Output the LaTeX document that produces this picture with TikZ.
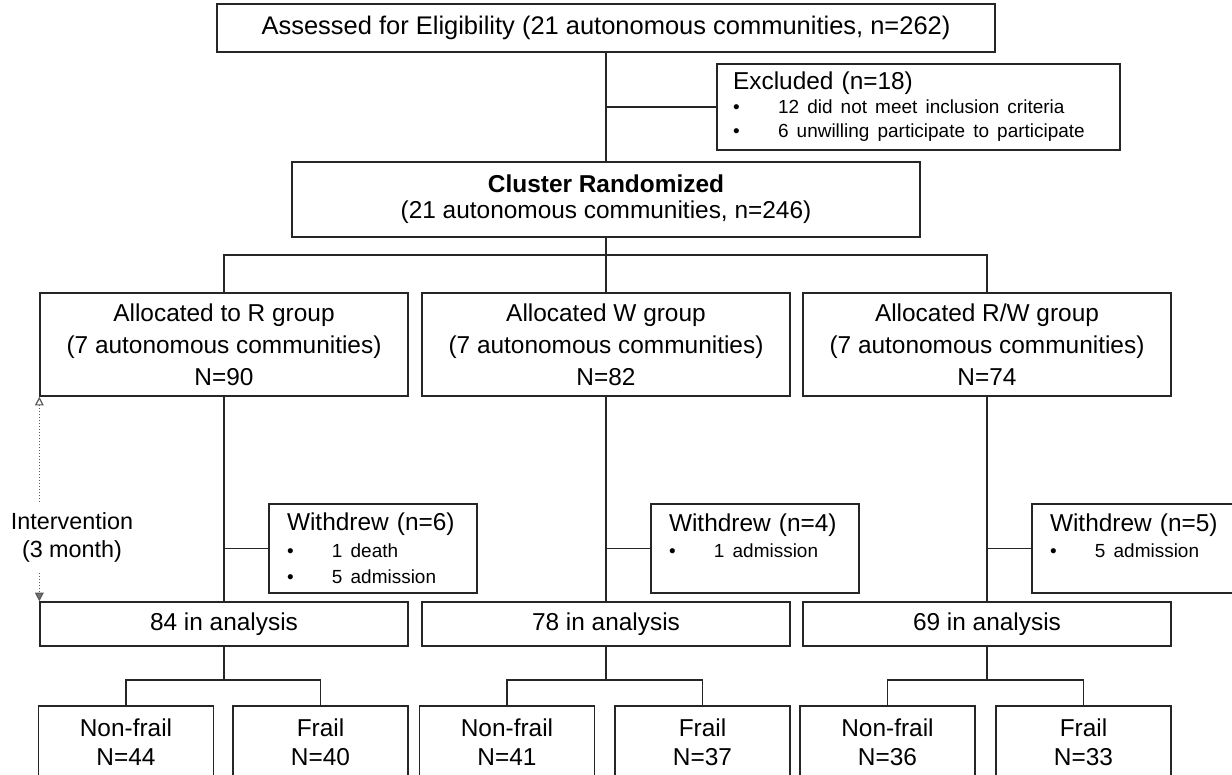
\documentclass[tikz,border=0pt]{standalone}
\usepackage{fontspec}
\setmainfont{Liberation Sans}
\usetikzlibrary{arrows.meta}
\newcommand{\bulline}[1]{{\fontsize{10.8}{13.6}\selectfont\makebox[0.9cm][l]{\textbullet}#1}}
\tikzset{
    flowbox/.style={draw=black!85, line width=0.8pt, align=center, inner sep=0pt, font=\fontsize{13.9}{18.1}\selectfont},
    sidebox/.style={draw=black!85, line width=0.8pt, align=left, inner ysep=0pt, inner xsep=0.36cm, text width=3.44cm, minimum height=1.78cm, font=\fontsize{13.9}{15}\selectfont},
    link/.style={draw=black!85, line width=0.8pt},
    timeline/.style={black!65, line width=0.7pt, densely dotted}
}
\begin{document}
\begin{tikzpicture}[x=0.02cm, y=-0.02cm]
        \useasboundingbox (0,0) rectangle (1232,775);
        \clip (0,0) rectangle (1232,775);
        \node [flowbox, minimum width=15.56cm, minimum height=0.96cm, font=\fontsize{14.5}{18}\selectfont] (assess) at (606,28) {Assessed for Eligibility (21 autonomous communities, n=262)};
        \node [sidebox, inner xsep=0.32cm, text width=7.42cm, minimum height=1.72cm, font=\fontsize{13.9}{13.6}\selectfont] (excl) at (918.5,107) {Excluded (n=18)\\ \bulline{12 did not meet inclusion criteria}\\ \bulline{6 unwilling participate to participate}};
        \node [flowbox, minimum width=12.56cm, minimum height=1.5cm, font=\fontsize{13.9}{14.8}\selectfont] (clus) at (606,199.5) {\textbf{Cluster Randomized}\\(21 autonomous communities, n=246)};
        \node [flowbox, minimum width=7.36cm, minimum height=2.06cm] (grpR) at (224,344.5) {Allocated to R group\\(7 autonomous communities)\\N=90};
        \node [flowbox, minimum width=7.36cm, minimum height=2.06cm] (grpW) at (606,344.5) {Allocated W group\\(7 autonomous communities)\\N=82};
        \node [flowbox, minimum width=7.36cm, minimum height=2.06cm] (grpRW) at (987,344.5) {Allocated R/W group\\(7 autonomous communities)\\N=74};
        \node [sidebox] (wdR) at (373,548.5) {Withdrew (n=6)\\ \bulline{1 death}\\ \bulline{5 admission}};
        \node [sidebox] (wdW) at (755,548.5) {Withdrew (n=4)\\ \bulline{1 admission}\\ \mbox{}};
        \node [sidebox] (wdRW) at (1136,548.5) {Withdrew (n=5)\\ \bulline{5 admission}\\ \mbox{}};
        \node [flowbox, minimum width=7.36cm, minimum height=0.88cm] (anR) at (224,624) {84 in analysis};
        \node [flowbox, minimum width=7.36cm, minimum height=0.88cm] (anW) at (606,624) {78 in analysis};
        \node [flowbox, minimum width=7.36cm, minimum height=0.88cm] (anRW) at (987,624) {69 in analysis};
        \node [flowbox, minimum width=3.5cm, minimum height=1.46cm, font=\fontsize{13.9}{16.4}\selectfont] (nfR) at (126,742.5) {Non-frail\\N=44};
        \node [flowbox, minimum width=3.5cm, minimum height=1.46cm, font=\fontsize{13.9}{16.4}\selectfont] (fR) at (320.5,742.5) {Frail\\N=40};
        \node [flowbox, minimum width=3.5cm, minimum height=1.46cm, font=\fontsize{13.9}{16.4}\selectfont] (nfW) at (507,742.5) {Non-frail\\N=41};
        \node [flowbox, minimum width=3.5cm, minimum height=1.46cm, font=\fontsize{13.9}{16.4}\selectfont] (fW) at (702.5,742.5) {Frail\\N=37};
        \node [flowbox, minimum width=3.5cm, minimum height=1.46cm, font=\fontsize{13.9}{16.4}\selectfont] (nfRW) at (887.5,742.5) {Non-frail\\N=36};
        \node [flowbox, minimum width=3.5cm, minimum height=1.46cm, font=\fontsize{13.9}{16.4}\selectfont] (fRW) at (1083.5,742.5) {Frail\\N=33};
        \node [align=center, inner xsep=0pt, inner ysep=0.2cm, font=\fontsize{13.3}{16.4}\selectfont] (interv) at (72,537.5) {Intervention\\(3 month)};
        \coordinate (branch) at (606,255);
        \coordinate (splitR) at (224,680);
        \coordinate (splitW) at (606,680);
        \coordinate (splitRW) at (987,680);
        \draw [link] (assess.south) -- (clus.north);
        \draw [link] (excl.west) -- (excl.west -| assess.south);
        \draw [link] (clus.south) -- (grpW.north);
        \draw [link] (grpR.north) |- (branch) -| (grpRW.north);
        \draw [link] (grpR.south) -- (anR.north);
        \draw [link] (grpW.south) -- (anW.north);
        \draw [link] (grpRW.south) -- (anRW.north);
        \draw [link] (wdR.west) -- (wdR.west -| grpR.south);
        \draw [link] (wdW.west) -- (wdW.west -| grpW.south);
        \draw [link] (wdRW.west) -- (wdRW.west -| grpRW.south);
        \draw [link] (anR.south) -- (splitR);
        \draw [link] (anW.south) -- (splitW);
        \draw [link] (anRW.south) -- (splitRW);
        \draw [link] (nfR.north) |- (splitR) -| (fR.north);
        \draw [link] (nfW.north) |- (splitW) -| (fW.north);
        \draw [link] (nfRW.north) |- (splitRW) -| (fRW.north);
        \draw [timeline, -{Triangle[open, length=5pt, width=5pt, line width=0.7pt]}] (interv.north -| grpR.south west) -- (grpR.south west);
        \draw [timeline, -{Triangle[length=5pt, width=5pt, fill=black!55]}] (interv.south -| anR.north west) -- (anR.north west);
    \end{tikzpicture}
\end{document}
